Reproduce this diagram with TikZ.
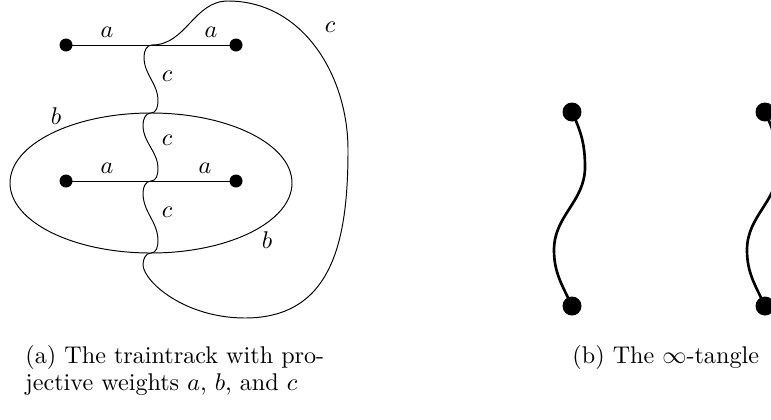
\documentclass[tikz,border=0pt]{standalone}
\usepackage{amsmath}
\usepackage{tikz}
\usetikzlibrary{calc}
\newcommand{\tracksegment}[2]{\draw (#1) to[out=180,in=90] ($(#1)+(-8,12)$)
        to[out=-90,in=90] ($(#2)+(7,-12)$) to[out=-90,in=0] (#2);
}
\newcommand{\drawstrand}{\draw[line width=1.1pt]}

\begin{document}
\begin{tikzpicture}[x=0.414pt, y=-0.414pt]
    \useasboundingbox (0,0) rectangle (771,419);

    % Draw traintrack
    \coordinate (x1) at (66,45);
    \coordinate (y1) at (236,45);
    \coordinate (x2) at (66,181);
    \coordinate (y2) at (236,181);
    \coordinate (sw1) at (152,45);
    \coordinate (sw2) at (151,113);
    \coordinate (sw3) at (151,181);
    \coordinate (sw4) at (151,253);
    \coordinate (hook) at (143,265);
    \coordinate (loopbot) at (245,318);
    \coordinate (loopright) at (348,150);
    \coordinate (looptop) at (228,1);

    \draw (x1) -- (y1);
    \draw (x2) -- (y2);
    \draw (151,183) ellipse [x radius=141, y radius=70];
    \tracksegment{sw1}{sw2}
    \tracksegment{sw2}{sw3}
    \tracksegment{sw3}{sw4}
    \draw (sw4) to[out=180,in=90] (hook) .. controls (144,282) and (185,318) .. (loopbot)
        to[out=0,in=-90,looseness=1.15] (loopright) to[out=90,in=0] (looptop)
        to[out=180,in=0] (sw1);

    \fill (x1) circle (6.5);
    \fill (y1) circle (6.5);
    \fill (x2) circle (6.5);
    \fill (y2) circle (6.5);

    % Draw weights
    \node (a1) at (107,32) {$a$};
    \node (a2) at (211,32) {$a$};
    \node (a3) at (107,168) {$a$};
    \node (a4) at (205,168) {$a$};
    \node (c1) at (167,76) {$c$};
    \node (c2) at (167,140) {$c$};
    \node (c3) at (167,212) {$c$};
    \node (c4) at (330,27) {$c$};
    \node (b1) at (56,116) {$b$};
    \node (b2) at (267,240) {$b$};

    % Draw tangle
    \foreach \n/\x in {l/572, r/765} {
        \coordinate (top\n) at (\x,112);
        \coordinate (bot\n) at (\x,306);
        \drawstrand (top\n) to[out=-65,in=90] ($(top\n)+(13,55)$)
            to[out=-90,in=90] ($(bot\n)+(-18,-56)$) to[out=-90,in=115] (bot\n);
        \fill (top\n) circle (9.5);
        \fill (bot\n) circle (9.5);
    }

    % Captions
    \node[anchor=base west, inner sep=0pt] (capa1) at (25,363) {(a) The traintrack with pro-};
    \node[anchor=base west, inner sep=0pt] (capa2) at (25,390) {jective weights $a$, $b$, and $c$};
    \node[anchor=base west, inner sep=0pt] (capb) at (572,363) {(b) The $\infty$-tangle};
\end{tikzpicture}
\end{document}
